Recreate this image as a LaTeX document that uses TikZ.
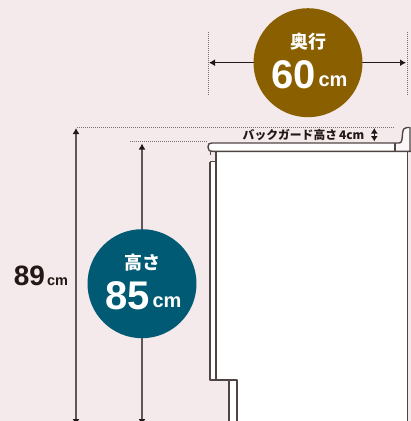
\documentclass[tikz,border=0pt]{standalone}
\usepackage{fontspec}
\usetikzlibrary{arrows.meta}
\setmainfont{Liberation Sans}
\newfontfamily\cjk{Noto Sans CJK JP}
\definecolor{bgc}{HTML}{F4E9EB}
\definecolor{brownc}{HTML}{8A5F00}
\definecolor{tealc}{HTML}{005A73}
\definecolor{inkc}{HTML}{231815}
\definecolor{shaftc}{HTML}{5F5755}
\tikzset{
  dimline/.style={draw=shaftc,line width=1.6pt},
  ahtip/.style={{Latex[length=6pt,width=7pt,inset=0pt,color=inkc]}-{Latex[length=6pt,width=7pt,inset=0pt,color=inkc]}},
  dotline/.style={draw=shaftc!85!white,line width=0.9pt,dash pattern=on 1pt off 1pt},
  outline/.style={draw=inkc!80!white,line width=1.4pt,line join=round},
  badge/.style={circle,minimum size=109pt,inner sep=0pt,text=white,align=center},
}
\begin{document}
\begin{tikzpicture}[x=1pt,y=-1pt]
\fill[bgc] (0,0) rectangle (411,421);
\useasboundingbox (0,0) rectangle (411,421);
% cabinet
\fill[white] (216,151) rectangle (407.5,380);
\fill[white] (229,380) rectangle (407.5,421);
\fill[white] (210,161) rectangle (216,380);
\fill[white] (208.5,143) rectangle (395,151);
\fill[bgc!35!white] (395,151) -- (395,143) -- (399,143) .. controls (402,143) and (402,140) .. (402.5,134) .. controls (403,129) and (404,127.5) .. (407,127.5) -- (410,127.5) -- (410,151) -- cycle;
% countertop
\draw[outline] (411,151.3) -- (213,151.3) .. controls (209,151.3) and (208,150) .. (208,147) .. controls (208,144) and (209,143) .. (212,143) -- (399,143) .. controls (402,143) and (402,140) .. (402.5,134) .. controls (403,129) and (404,127.5) .. (407,127.5) -- (410,127.5) -- (410,151.3);
\draw[outline] (395,143) -- (395,151.3);
\draw[outline] (407.5,151.3) -- (407.5,421);
% door
\draw[outline] (216,151.3) -- (216,380);
\draw[outline] (210,161.5) -- (216,161.5);
\draw[outline] (210,161.5) -- (210,380) -- (237,380) -- (237,421);
\draw[outline] (229,380) -- (229,421);
\draw[outline,line width=0.9pt] (210,151.3) -- (210,155);
% dotted guides
\coordinate (wl1) at (208,32); \coordinate (wl2) at (208,96);
\coordinate (wr1) at (407,32); \coordinate (wr2) at (407,96);
\draw[dotline] (wl1) -- (wl2);
\draw[dotline] (wr1) -- (wr2);
\coordinate (t89) at (77,127.5); \coordinate (t89e) at (394,127.5);
\coordinate (t85) at (130,141); \coordinate (t85e) at (207,141);
\draw[dotline] (t89) -- (t89e);
\draw[dotline] (t85) -- (t85e);
% dimension lines
\coordinate (wa) at (209,62.7); \coordinate (wb) at (406,62.7);
\draw[draw=inkc,line width=1.2pt,ahtip] (wa) -- (wb);
\coordinate (a89t) at (76,128); \coordinate (a89b) at (76,425);
\coordinate (a85t) at (142,143.5); \coordinate (a85b) at (142,425);
\draw[dimline,ahtip] (a89t) -- (a89b);
\draw[dimline,ahtip] (a85t) -- (a85b);
\coordinate (ga) at (374.3,128); \coordinate (gb) at (374.3,141.5);
\draw[draw=inkc,line width=1.2pt,{Latex[length=5.5pt,width=7pt,inset=0pt]}-{Latex[length=5.5pt,width=7pt,inset=0pt]}] (ga) -- (gb);
% badges
\node[badge,fill=brownc] (depth) at (308,62.7) {};
\node[text=white,inner sep=0pt] (depthlabel) at (308,41.5) {\cjk\bfseries\fontsize{18}{18}\selectfont 奥行};
\node[text=white,inner sep=0pt,anchor=base] (depthnum) at (294,88) {\bfseries\fontsize{40}{40}\selectfont 60};
\node[text=white,inner sep=0pt,anchor=base] (depthunit) at (333,86.5) {\bfseries\fontsize{20}{20}\selectfont cm};
\node[badge,fill=tealc] (height) at (142,283.7) {};
\node[text=white,inner sep=0pt] (heightlabel) at (142,262.5) {\cjk\bfseries\fontsize{18}{18}\selectfont 高さ};
\node[text=white,inner sep=0pt,anchor=base] (heightnum) at (128,309) {\bfseries\fontsize{40}{40}\selectfont 85};
\node[text=white,inner sep=0pt,anchor=base] (heightunit) at (167,307.5) {\bfseries\fontsize{20}{20}\selectfont cm};
% labels
\node[text=inkc,inner sep=0pt,anchor=base] (n89) at (29.5,285) {\bfseries\fontsize{28}{28}\selectfont 89};
\node[text=inkc,inner sep=0pt,anchor=base] (u89) at (57.5,285) {\bfseries\fontsize{14.5}{14.5}\selectfont cm};
\node[text=inkc,inner sep=0pt,anchor=base] (back) at (303.5,139) {\cjk\bfseries\fontsize{11.8}{12}\selectfont バックガード高さ\,4cm};
\end{tikzpicture}
\end{document}
